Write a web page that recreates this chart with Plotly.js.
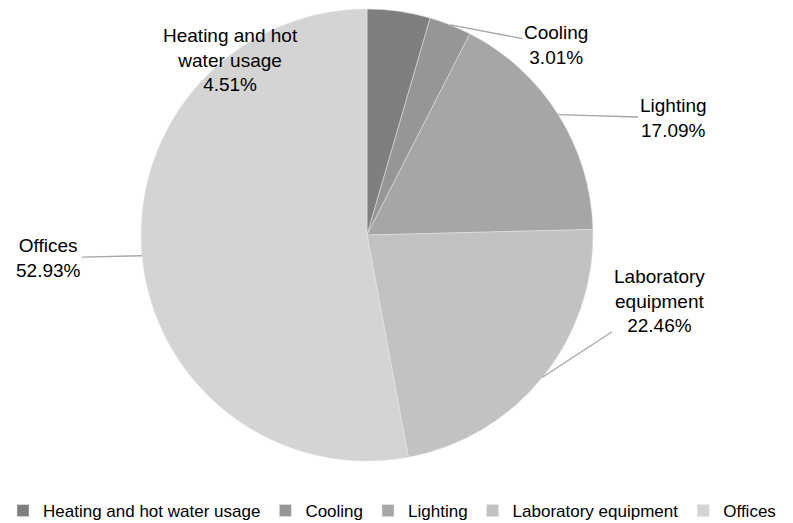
<!DOCTYPE html>
<html>
<head>
<meta charset="utf-8">
<script src="https://cdn.plot.ly/plotly-3.0.1.min.js"></script>
<style>
html, body { margin: 0; padding: 0; overflow: hidden; background: #ffffff; width: 793px; height: 523px; }
#chart { position: absolute; left: -130px; top: 0; width: 940px; height: 560px; }
</style>
</head>
<body>
<div id="chart"></div>
<script>
// ---- data ----
const categories = ["Heating and hot water usage", "Cooling", "Lighting", "Laboratory equipment", "Offices"];
const labelTexts = ["Heating and hot<br>water usage", "Cooling", "Lighting", "Laboratory<br>equipment", "Offices"];
const shares = [4.51, 3.01, 17.09, 22.46, 52.93];
const sliceColors = ["#7f7f7f", "#969696", "#a6a6a6", "#c2c2c2", "#d4d4d4"];

const FONT = "'Liberation Sans', Arial, sans-serif";

// ---- layout geometry (div is wider than window, shifted left) ----
const W = 940, H = 560, OFF = 130;
const cxWin = 367, cyWin = 235, R = 226;
const cx = cxWin + OFF, cy = cyWin;
const domX = [(cx - R) / W, (cx + R) / W];
const domY = [1 - (cy + R) / H, 1 - (cy - R) / H];

// label centres (window pixels) and whether a leader line is drawn
const labelPos = [[230, 60], [556, 45], [673, 118], [659, 301], [48, 258]];
const leader = [false, true, true, true, true];

const total = shares.reduce((a, b) => a + b, 0);
const annotations = [];
let cum = 0;
shares.forEach((v, i) => {
  const mid = (cum + v / 2) / total * 2 * Math.PI; // clockwise from 12 o'clock
  cum += v;
  const hx = cx + R * Math.sin(mid);
  const hy = cy - R * Math.cos(mid);
  const lx = labelPos[i][0] + OFF, ly = labelPos[i][1];
  const text = labelTexts[i] + "<br>" + v.toFixed(2) + "%";
  const base = {
    text: text, align: "center",
    font: { family: FONT, size: 19, color: "#000000" }
  };
  if (leader[i]) {
    annotations.push(Object.assign(base, {
      x: hx / W, y: 1 - hy / H, xref: "paper", yref: "paper",
      ax: lx - hx, ay: ly - hy, axref: "pixel", ayref: "pixel",
      showarrow: true, arrowhead: 0, arrowwidth: 1.3,
      arrowcolor: "#a6a6a6", standoff: 0, startstandoff: 0
    }));
  } else {
    annotations.push(Object.assign(base, {
      x: lx / W, y: 1 - ly / H, xref: "paper", yref: "paper",
      xanchor: "center", yanchor: "middle", showarrow: false
    }));
  }
});

const trace = {
  type: "pie",
  labels: categories,
  values: shares,
  sort: false,
  direction: "clockwise",
  rotation: 0,
  textinfo: "none",
  hoverinfo: "label+percent",
  marker: { colors: sliceColors, line: { color: "#e6e6e6", width: 0.5 } },
  domain: { x: domX, y: domY },
  showlegend: true
};

const layout = {
  width: W, height: H,
  margin: { l: 0, r: 0, t: 0, b: 0, pad: 0 },
  paper_bgcolor: "#ffffff",
  plot_bgcolor: "#ffffff",
  font: { family: FONT, size: 17, color: "#000000" },
  showlegend: true,
  legend: {
    orientation: "h",
    x: (392 + OFF) / W, xanchor: "center",
    y: 1 - 511 / H, yanchor: "middle",
    itemwidth: 30,
    traceorder: "normal",
    font: { family: FONT, size: 17, color: "#000000" },
    bgcolor: "rgba(0,0,0,0)"
  },
  annotations: annotations
};

Plotly.newPlot("chart", [trace], layout, { displayModeBar: false, staticPlot: true });
</script>
</body>
</html>
